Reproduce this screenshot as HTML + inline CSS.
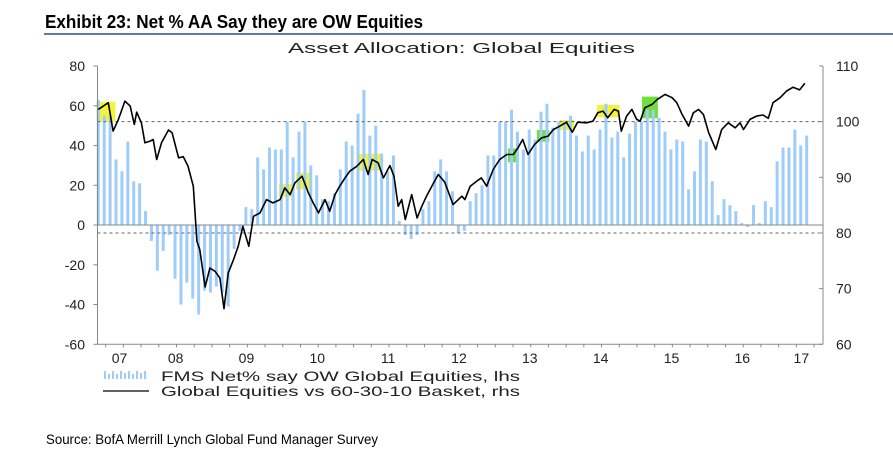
<!DOCTYPE html>
<html><head><meta charset="utf-8"><style>
body{margin:0;background:#fff;}
svg{display:block;font-family:"Liberation Sans",Arial,sans-serif;}
</style></head><body>
<svg id="chart" width="893" height="463" viewBox="0 0 893 463">
<text x="45" y="28" font-size="18" font-weight="bold" textLength="378" lengthAdjust="spacingAndGlyphs" fill="#000">Exhibit 23: Net % AA Say they are OW Equities</text>
<rect x="44" y="33" width="849" height="2" fill="#5b7bb0"/>
<text x="288" y="53" font-size="15" textLength="347" lengthAdjust="spacingAndGlyphs" fill="#222">Asset Allocation: Global Equities</text>
<g id="plot"></g>
<g>
 <g fill="#9fcdfa">
  <rect x="104" y="371" width="2" height="8"/><rect x="108" y="374" width="2" height="5"/><rect x="112" y="371" width="2" height="8"/><rect x="116" y="374" width="2" height="5"/><rect x="120" y="371" width="2" height="8"/><rect x="124" y="373" width="2" height="6"/><rect x="128" y="371" width="2" height="8"/><rect x="132" y="374" width="2" height="5"/><rect x="136" y="371" width="2" height="8"/><rect x="140" y="373" width="2" height="6"/><rect x="144" y="371" width="2" height="8"/>
 </g>
 <text x="161" y="381" font-size="14" textLength="359" lengthAdjust="spacingAndGlyphs" fill="#222">FMS Net% say OW Global Equities, lhs</text>
 <line x1="103" y1="391" x2="149" y2="391" stroke="#000" stroke-width="1.2"/>
 <text x="161" y="396" font-size="14" textLength="359" lengthAdjust="spacingAndGlyphs" fill="#222">Global Equities vs 60-30-10 Basket, rhs</text>
</g>
<text x="46" y="444" font-size="14" textLength="332" lengthAdjust="spacingAndGlyphs" fill="#000">Source: BofA Merrill Lynch Global Fund Manager Survey</text>
</svg>
<script>
const barValues = [63,55,55,33,27,42,22,21,7,-8,-23,-13,-5,-27,-40,-29,-37,-45,-33,-34,-31,-34,-41,-12,-3,9,8,34,28,39,38,38,52,34,47,52,30,25,13,12,16,28,42,40,56,68,45,50,36,27,35,2,-5,-7,-5,8,12,27,33,27,17,-4,-3,12,16,20,35,35,52,52,58,47,38,48,43,57,61,49,52,52,55,45,37,45,38,48,61,44,47,34,46,52,52,58,58,54,47,38,43,42,18,27,43,42,22,5,13,10,7,1,-1,10,1,12,9,32,39,39,48,40,45];
const lineIdx = [0,1.7,2.5,3.4,4.5,5.4,6.1,6.5,7.3,7.9,8.8,9.3,9.9,10.7,11.9,12.5,13.6,14.4,15.2,16.1,16.7,17.2,18.1,18.9,19.8,20.6,21.3,22.0,22.9,23.7,24.5,25.5,26.3,27.4,28.5,29.6,30.8,31.6,32.5,33.3,34.5,35.6,36.4,37.3,38.4,39.2,40.1,40.9,41.8,42.6,43.8,44.9,45.7,46.4,47.4,48.3,49.4,50.1,50.8,51.4,52.0,53.1,54.0,54.8,55.6,56.8,57.6,58.7,60.1,61.6,62.1,63.0,64.1,64.9,65.8,66.9,68.0,69.2,70.3,71.1,71.9,72.8,73.9,75.1,76.2,77.1,78.2,79.3,80.3,81.2,82.7,83.8,84.6,85.5,86.3,87.4,88.1,88.6,89.5,90.4,91.2,91.8,92.6,93.8,94.7,96.0,97.2,98.0,98.9,100.0,100.8,101.7,102.5,103.4,103.9,104.6,105.6,106.7,107.9,108.7,109.3,110.4,111.5,112.6,113.5,114.3,115.5,116.6,117.7,118.8,119.7];
const lineVals = [102.2,103.4,98.3,100.4,103.7,102.8,99.5,101.7,99.8,96.2,96.5,96.8,93.2,96.2,98.5,98.0,93.5,93.7,92.0,88.4,78.5,77.0,70.3,73.7,73.1,71.9,66.4,72.8,75.2,77.6,81.2,77.6,83.0,83.6,86.0,85.4,86.0,88.1,86.9,89.0,90.2,87.2,85.4,83.6,86.0,83.9,86.9,88.4,89.9,91.1,92.0,93.2,90.5,93.2,92.6,89.9,92.1,90.2,84.8,86.0,82.4,86.9,82.7,84.8,86.6,89.0,90.5,89.1,85.1,86.6,86.0,88.4,89.3,89.9,88.4,91.4,93.2,94.1,94.1,95.3,96.8,94.1,95.9,97.1,97.4,98.6,99.2,99.9,98.1,99.9,99.8,100.1,101.6,101.9,100.7,102.2,101.9,98.3,101.0,102.2,100.4,100.1,102.5,103.1,104.0,104.9,104.3,103.4,101.3,99.2,101.6,102.2,101.3,98.0,96.8,95.0,98.6,99.8,98.9,99.8,98.6,100.4,101.0,101.2,100.6,103.4,104.3,105.5,106.2,105.7,106.9];
const leftTicks = [80,60,40,20,0,-20,-40,-60];
const rightTicks = [110,100,90,80,70,60];
const yearLabels = ["07","08","09","10","11","12","13","14","15","16","17"];
const yearPos = [3.6,13.1,25.1,37.1,49.1,61.1,73.1,85.1,97.1,109.1,119.1];
const boxStart = [-0.3,30.6,33.5,44.0,69.4,74.3,78.1,84.5,92.1];
const boxEnd = [2.9,32.9,36.2,47.9,71.0,76.4,80.6,88.3,94.8];
const boxTop = [103.6,88.8,90.8,94.2,95.2,98.5,100.3,103.0,104.5];
const boxBot = [100.0,86.5,87.8,91.2,92.7,96.4,98.5,100.8,100.6];
const boxGreen = [0,0,0,0,1,1,0,0,1];

const NS="http://www.w3.org/2000/svg";
const plot=document.getElementById('plot');
const X0=98.3, DX=5.903, LEFT=97.5, RIGHT=823, TOP=66, BOT=344.3;
const x=i=>X0+i*DX;
const yL=v=>TOP+(80-v)*(BOT-TOP)/140;
const yR=v=>TOP+(110-v)*(BOT-TOP)/50;
function mk(tag,attrs,parent){const e=document.createElementNS(NS,tag);for(const k in attrs)e.setAttribute(k,attrs[k]);(parent||plot).appendChild(e);return e;}

boxStart.forEach((s,i)=>{
 const r=mk('rect',{x:x(s),y:yR(boxTop[i]),width:x(boxEnd[i])-x(s),height:yR(boxBot[i])-yR(boxTop[i]),fill:boxGreen[i]?'#6fe03a':'#f3f33c'});
 
 
});
barValues.forEach((v,i)=>{
 const y0=yL(0), y1=yL(v);
 const r=mk('rect',{x:x(i)-1.5,y:Math.min(y0,y1),width:3,height:Math.max(0.8,Math.abs(y1-y0)),fill:'#9fcdfa'});
 
 
});
let l=mk('line',{x1:LEFT,x2:RIGHT,y1:yR(100),y2:yR(100),stroke:'#666','stroke-width':1,'stroke-dasharray':'3,3'});


l=mk('line',{x1:LEFT,x2:RIGHT,y1:yR(80),y2:yR(80),stroke:'#666','stroke-width':1,'stroke-dasharray':'3,3'});


l=mk('line',{x1:LEFT,x2:RIGHT,y1:yL(0),y2:yL(0),stroke:'#888','stroke-width':1});


const p=mk('path',{d:lineIdx.map((t,i)=>(i?'L':'M')+x(t).toFixed(1)+','+yR(lineVals[i]).toFixed(1)).join(''),fill:'none',stroke:'#000','stroke-width':1.6,'stroke-linejoin':'round'});


l=mk('line',{x1:LEFT,x2:LEFT,y1:TOP,y2:BOT,stroke:'#888','stroke-width':1});


l=mk('line',{x1:RIGHT,x2:RIGHT,y1:TOP,y2:BOT,stroke:'#888','stroke-width':1});


l=mk('line',{x1:LEFT,x2:RIGHT,y1:BOT,y2:BOT,stroke:'#888','stroke-width':1});


leftTicks.forEach(v=>{
 mk('line',{x1:LEFT-4,x2:LEFT,y1:yL(v),y2:yL(v),stroke:'#888'});
 const t=mk('text',{x:85,y:yL(v)+5,'text-anchor':'end','font-size':14,fill:'#222'});
 t.textContent=v;
 
 
});
rightTicks.forEach(v=>{
 mk('line',{x1:RIGHT-4,x2:RIGHT,y1:yR(v),y2:yR(v),stroke:'#888'});
 const t=mk('text',{x:836,y:yR(v)+5,'font-size':14,fill:'#222'});
 t.textContent=v;
 
 
});
for(let i=1.25;i<122;i+=3){mk('line',{x1:x(i),x2:x(i),y1:BOT,y2:BOT+3,stroke:'#888'});}
yearLabels.forEach((s,i)=>{
 const t=mk('text',{x:x(yearPos[i]),y:363,'text-anchor':'middle','font-size':14,fill:'#222'});
 t.textContent=s;
 
 
});
</script>
</body></html>
